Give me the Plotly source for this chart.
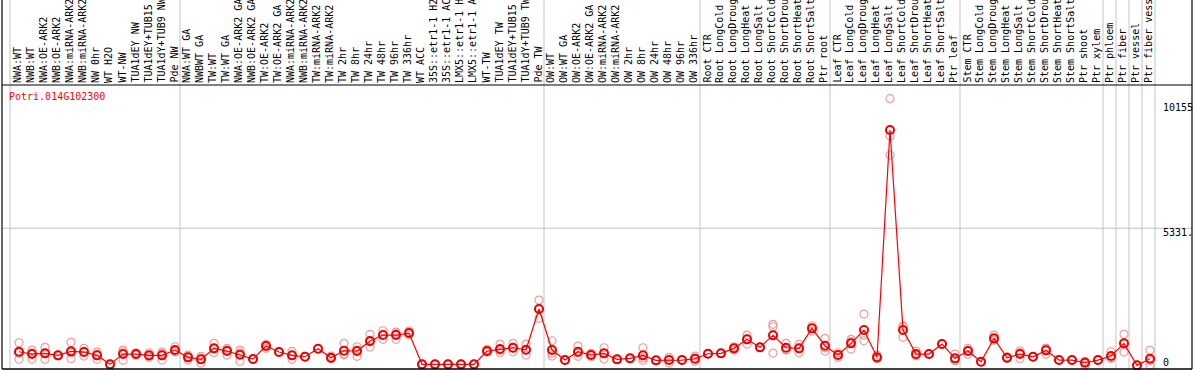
import plotly.graph_objects as go

title_text = "Potri.014G102300"

groups = [
    ["NWA:WT", "NWB:WT", "NWA:OE-ARK2", "NWB:OE-ARK2", "NWA:miRNA-ARK2", "NWB:miRNA-ARK2",
     "NW 0hr", "WT H2O", "WT-NW", "TUA1dEY NW", "TUA1dEY+TUB15 NW", "TUA1dY+TUB9 NW", "Pde NW"],
    ["NWA:WT GA", "NWBWT GA", "TW:WT", "TW:WT GA", "NWA:OE-ARK2 GA", "NWB:OE-ARK2 GA",
     "TW:OE-ARK2", "TW:OE-ARK2 GA", "NWA:miRNA-ARK2", "NWB:miRNA-ARK2", "TW:miRNA-ARK2",
     "TW:miRNA-ARK2", "TW 2hr", "TW 8hr", "TW 24hr", "TW 48hr", "TW 96hr", "TW 336hr", "WT ACC",
     "35S::etr1-1 H2O", "35S::etr1-1 ACC", "LMX5::etr1-1 H2O", "LMX5::etr1-1 ACC", "WT-TW",
     "TUA1dEY TW", "TUA1dEY+TUB15 TW", "TUA1dY+TUB9 TW", "Pde TW"],
    ["OW:WT", "OW:WT GA", "OW:OE-ARK2", "OW:OE-ARK2 GA", "OW:miRNA-ARK2", "OW:miRNA-ARK2",
     "OW 2hr", "OW 8hr", "OW 24hr", "OW 48hr", "OW 96hr", "OW 336hr"],
    ["Root CTR", "Root LongCold", "Root LongDrought", "Root LongHeat", "Root LongSalt",
     "Root ShortCold", "Root ShortDrought", "Root ShortHeat", "Root ShortSalt", "Ptr root"],
    ["Leaf CTR", "Leaf LongCold", "Leaf LongDrought", "Leaf LongHeat", "Leaf LongSalt",
     "Leaf ShortCold", "Leaf ShortDrought", "Leaf ShortHeat", "Leaf ShortSalt", "Ptr leaf"],
    ["Stem CTR", "Stem LongCold", "Stem LongDrought", "Stem LongHeat", "Stem LongSalt",
     "Stem ShortCold", "Stem ShortDrought", "Stem ShortHeat", "Stem ShortSalt", "Ptr shoot",
     "Ptr xylem"],
    ["Ptr phloem"],
    ["Ptr fiber"],
    ["Ptr vessel"],
    ["Ptr fiber vessel"],
]

means = [
    737, 651, 677, 603, 752, 726, 603, 268, 651, 651, 603, 603, 800,
    529, 454, 863, 763, 625, 465, 949, 726, 603, 551, 849, 514, 774, 763, 1135, 1359, 1359, 1433,
    268, 268, 268, 268, 268, 763, 837, 886, 811, 2326,
    800, 428, 737, 614, 677, 454, 491, 603, 417, 428, 428, 476,
    663, 677, 863, 1198, 901, 1347, 886, 863, 1608, 960,
    614, 1050, 1545, 529, 8989, 1545, 651, 651, 1024, 491,
    763, 365, 1236, 514, 651, 551, 789, 428, 428, 328, 428,
    577, 1050, 231, 476,
]

rep_a = [
    1072, 800, 901, 603, 1087, 863, 726, 268, 800, 700, 700, 726, 923,
    614, 566, 1050, 863, 800, 465, 1012, 726, 752, 551, 849, 577, 1050, 923, 1385, 1519, 1470, 1507,
    268, 268, 268, 268, 268, 826, 1024, 1050, 1024, 2661,
    1146, 428, 949, 677, 886, 454, 491, 886, 417, 529, 428, 577,
    663, 677, 923, 1359, 901, 1757, 1050, 1012, 1705, 1236,
    700, 1198, 2140, 614, 10155, 1705, 763, 651, 1024, 651,
    863, 365, 1359, 551, 774, 551, 863, 428, 428, 380, 428,
    737, 1385, 231, 789,
]

rep_b = [
    454, 454, 454, 590, 476, 577, 454, 268, 417, 610, 529, 428, 737,
    428, 316, 700, 614, 380, 465, 863, 726, 454, 551, 849, 480, 651, 566, 912, 1198, 1198, 1359,
    268, 268, 268, 268, 268, 740, 700, 737, 614, 1980,
    577, 428, 566, 551, 465, 454, 491, 417, 417, 316, 428, 380,
    663, 677, 800, 1024, 901, 1667, 800, 700, 1507, 763,
    529, 837, 1146, 473, 8765, 1273, 600, 651, 1024, 411,
    640, 365, 1175, 495, 476, 551, 640, 428, 428, 231, 428,
    500, 726, 231, 231,
]

rep_c = [
    685, 699, 676, 616, 693, 738, 629, 268, 736, 643, 580, 655, 740,
    545, 480, 839, 812, 695, 465, 972, 726, 603, 551, 849, 485, 621, 800, 1108, 1360, 1409, 1433,
    268, 268, 268, 268, 268, 723, 787, 871, 800, 2338,
    678, 428, 696, 614, 680, 454, 491, 506, 417, 439, 428, 471,
    663, 677, 866, 1211, 901, 689, 808, 877, 1612, 881,
    614, 1115, 1349, 500, 8058, 1657, 590, 651, 1024, 411,
    786, 365, 1175, 495, 703, 551, 864, 428, 428, 373, 428,
    494, 1039, 231, 408,
]

y_max_label = "10155"
y_mid_label = "5331."
y_zero_label = "0"
y_top_value = 10662.75
y_mid_value = 5331.4

# ---------------------------------------------------------------
labels = [c for g in groups for c in g]
xs = list(range(len(labels)))

W, H = 1194, 370
ML, MR, MT, MB = 2, 2, 85, 1
PW = W - ML - MR
PH = H - MT - MB
STEP = 13.0
x_min = -(19 - ML) / STEP
x_max = x_min + PW / STEP
y_min = 95

def py(pix):
    # pixel row -> paper y
    return (H - MB - pix) / PH

def px(pix):
    return (pix - ML) / PW

GRAY = "#c4c4c4"
fig = go.Figure()

# replicate circles
for reps in (rep_a, rep_b, rep_c):
    fig.add_trace(go.Scatter(
        x=xs, y=reps, mode="markers", cliponaxis=False,
        marker=dict(symbol="circle-open", size=8, color="rgba(232,140,140,0.85)",
                    line=dict(width=1.2, color="rgba(232,140,140,0.85)")),
        hoverinfo="skip", showlegend=False))

# mean line + markers
fig.add_trace(go.Scatter(
    x=xs, y=means, mode="lines+markers", cliponaxis=False,
    line=dict(color="#ff0000", width=1.2),
    marker=dict(symbol="circle-open", size=8, color="#ee0000",
                line=dict(width=2, color="#ee0000")),
    showlegend=False))

shapes = []
# group separators
pos = -1
seps = [x_min + (10 - ML) / STEP]
for g in groups:
    pos += len(g)
    seps.append(pos + 5 / STEP)
for s in seps:
    shapes.append(dict(type="line", xref="x", yref="paper", x0=s, x1=s,
                       y0=0, y1=py(0), line=dict(color=GRAY, width=1), layer="below"))
# mid grid line
shapes.append(dict(type="line", xref="paper", yref="y", x0=0, x1=1,
                   y0=y_mid_value, y1=y_mid_value, line=dict(color=GRAY, width=1), layer="below"))
# borders
shapes.append(dict(type="line", xref="paper", yref="paper", x0=0, x1=0, y0=0, y1=py(0),
                   line=dict(color="black", width=1.2)))
shapes.append(dict(type="line", xref="paper", yref="paper", x0=1, x1=1, y0=0, y1=py(0),
                   line=dict(color="black", width=1.2)))
shapes.append(dict(type="line", xref="paper", yref="paper", x0=0, x1=1, y0=1, y1=1,
                   line=dict(color="black", width=1.2)))
shapes.append(dict(type="line", xref="paper", yref="paper", x0=0, x1=1, y0=0, y1=0,
                   line=dict(color="black", width=1.5)))

FONT = "DejaVu Sans Mono"
annotations = []
for i, lab in enumerate(labels):
    annotations.append(dict(x=i, y=py(84), xref="x", yref="paper", text=lab,
                            textangle=-90, xanchor="center", yanchor="bottom",
                            showarrow=False, xshift=-1, borderpad=0,
                            font=dict(family=FONT, size=10, color="black")))
annotations.append(dict(x=px(8), y=py(96.5), xref="paper", yref="paper", text=title_text,
                        xanchor="left", yanchor="middle", showarrow=False, borderpad=0,
                        font=dict(family=FONT, size=10, color="#ff0000")))
for lab, ypix in ((y_max_label, 107), (y_mid_label, 232.5), (y_zero_label, 362)):
    annotations.append(dict(x=px(1162), y=py(ypix), xref="paper", yref="paper", text=lab,
                            xanchor="left", yanchor="middle", showarrow=False, borderpad=0,
                            font=dict(family=FONT, size=10, color="black")))

fig.update_layout(
    width=W, height=H,
    margin=dict(l=ML, r=MR, t=MT, b=MB, pad=0),
    paper_bgcolor="white", plot_bgcolor="white",
    xaxis=dict(range=[x_min, x_max], visible=False, fixedrange=True),
    yaxis=dict(range=[y_min, y_top_value], visible=False, fixedrange=True),
    shapes=shapes, annotations=annotations,
    showlegend=False,
)
fig.write_html(
    "out.html",
    config={"displayModeBar": False},
    post_script="document.body.style.margin='0';document.body.style.padding='0';"
                "document.body.style.overflow='hidden';",
)
